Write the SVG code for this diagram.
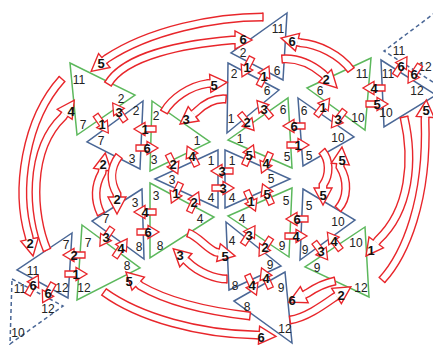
<svg xmlns="http://www.w3.org/2000/svg" xmlns:xlink="http://www.w3.org/1999/xlink" width="433" height="345" viewBox="0 0 433 345">
<style>
.tb{fill:none;stroke:#4a6796;stroke-width:1.5}
.tg{fill:none;stroke:#5cb85c;stroke-width:1.5}
.td{fill:none;stroke:#4a6796;stroke-width:1.5;stroke-dasharray:4 3}
.lb{font-family:"Liberation Sans",Arial,sans-serif;font-size:12px;fill:#222;text-anchor:middle}
.an{font-family:"Liberation Sans",Arial,sans-serif;font-size:13px;font-weight:bold;fill:#111;text-anchor:middle}
.sa{fill:#fff;stroke:#e8262b;stroke-width:1.3;stroke-linejoin:miter}
.bs{fill:none;stroke:#e8262b;stroke-width:9}
.bw{fill:none;stroke:#fff;stroke-width:6.2;marker-start:url(#tl);marker-end:url(#hd)}
</style>
<defs>
<marker id="hd" markerUnits="userSpaceOnUse" orient="auto" viewBox="-20 -20 40 40" markerWidth="40" markerHeight="40" refX="0" refY="0" overflow="visible">
<polyline points="0,-3.1 0,-9 17,0 0,9 0,3.1" fill="#fff" stroke="#e8262b" stroke-width="1.4"/>
</marker>
<marker id="tl" markerUnits="userSpaceOnUse" orient="auto" viewBox="-20 -20 40 40" markerWidth="40" markerHeight="40" refX="0" refY="0" overflow="visible">
<line x1="0" y1="-4.5" x2="0" y2="4.5" stroke="#e8262b" stroke-width="1.4"/>
</marker>
<path id="sa" d="M-11,-3 H0 V-6.5 L11,0 L0,6.5 V3 H-11 Z"/>
<path id="c1" d="M263,17 C215,17 150,30 106.6,58.6 L104.3,60.5"/>
<path id="c2" d="M108,84 C125,55 185,44 232,40 L235,40"/>
<path id="c3" d="M351,70 C340,55 318,44 300.4,42.8 L297.5,42.1"/>
<path id="c4" d="M282,59 C295,58 310,63 323,73.8 L325.1,75.9"/>
<path id="c5" d="M164,112 C172,98 190,86 207.2,83.6 L210.2,83.4"/>
<path id="c6" d="M226,99 C215,98 204,104 196,112 L193.6,113.8"/>
<path id="c7" d="M62,79 C25,120 15,190 29,236.4 L29.6,239.3"/>
<path id="c8" d="M47,250 C32,215 28,150 63,116.8 L64.7,114.3"/>
<path id="c9" d="M250,316 C215,312 170,303 140.4,285.8 L138.2,283.7"/>
<path id="c10" d="M104,292 C140,318 200,334 256,335 L259,335.2"/>
<path id="c11" d="M188,233 C198,236 206,248 215.6,252 L218.5,252.6"/>
<path id="c12" d="M227,279 C215,279 198,272 188,262.2 L185.8,260.2"/>
<path id="c13" d="M382,280 C405,255 428,200 425,120 L425.2,117"/>
<path id="c14" d="M404,117 C414,160 410,210 378,240 L376.2,242.4"/>
<path id="c15" d="M101,214 C94,200 95,185 102,172.8 L102.5,169.8"/>
<path id="c16" d="M119,156 C110,168 110,182 117,194 L117,197"/>
<path id="c17" d="M322,151 C330,160 330,175 323,185 L323,188"/>
<path id="c18" d="M338,209 C348,198 348,180 340,167 L340.3,164"/>
<path id="c19" d="M335,281 C325,283 315,288 307,293.4 L304.3,294.7"/>
<path id="c20" d="M290,320 C305,318 322,306 334,297.6 L336.5,296"/>
</defs>
<rect width="433" height="345" fill="#fff"/>

<g id="n-ga"><polygon class="tg" points="70,63 135,95 77,135"/><text class="lb" x="79" y="84">11</text><text class="lb" x="121" y="103">2</text><text class="lb" x="83" y="129">7</text></g>
<g id="n-ba"><polygon class="tb" points="143,101 87,142 140,169"/><text class="lb" x="136" y="115">2</text><text class="lb" x="101" y="145">7</text><text class="lb" x="132" y="163">3</text></g>
<g id="n-btop"><polygon class="tb" points="287,13 231,53 283,80"/><text class="lb" x="278" y="33">11</text><text class="lb" x="243" y="57">2</text><text class="lb" x="277" y="75">6</text></g>
<g id="n-t2"><polygon class="tb" points="228,63 279,90 227,133"/><text class="lb" x="234" y="78">2</text><text class="lb" x="267" y="95">6</text><text class="lb" x="231" y="123">1</text></g>
<g id="n-g2"><polygon class="tg" points="152,101 210,142 150,171"/><text class="lb" x="156" y="120">2</text><text class="lb" x="197" y="145">1</text><text class="lb" x="154" y="164">3</text></g>
<g id="n-cl"><polygon class="tb" points="218,150 155,179 218,208"/><text class="lb" x="211" y="165">1</text><text class="lb" x="172" y="184">3</text><text class="lb" x="211" y="202">4</text></g>
<g id="n-cr"><polygon class="tb" points="225,150 290,179 225,208"/><text class="lb" x="232" y="165">1</text><text class="lb" x="271" y="183">5</text><text class="lb" x="232" y="202">4</text></g>
<g id="n-g3"><polygon class="tg" points="228,140 288,98 292,168"/><text class="lb" x="240" y="143">1</text><text class="lb" x="283" y="114">6</text><text class="lb" x="287" y="161">5</text></g>
<g id="n-gb"><polygon class="tg" points="371,58 307,88 365,130"/><text class="lb" x="362" y="78">11</text><text class="lb" x="320" y="95">6</text><text class="lb" x="358" y="122">10</text></g>
<g id="n-be"><polygon class="tb" points="298,98 354,137 303,166"/><text class="lb" x="304" y="115">6</text><text class="lb" x="338" y="142">10</text><text class="lb" x="309" y="160">5</text></g>
<g id="n-bc"><polygon class="tb" points="381,60 436,95 384,127"/><text class="lb" x="388" y="78">11</text><text class="lb" x="417" y="95">12</text><text class="lb" x="386" y="117">10</text></g>
<g id="n-tr"><polyline class="td" points="436,12 384,51 436,84"/><text class="lb" x="399" y="55">11</text><text class="lb" x="425" y="71">12</text></g>
<g id="n-gd"><polygon class="tg" points="150,183 214,217 150,258"/><text class="lb" x="156" y="200">3</text><text class="lb" x="200" y="223">4</text><text class="lb" x="160" y="250">8</text></g>
<g id="n-ge"><polygon class="tg" points="228,216 292,188 289,257"/><text class="lb" x="242" y="223">4</text><text class="lb" x="286" y="205">5</text><text class="lb" x="282" y="250">9</text></g>
<g id="n-bf"><polygon class="tb" points="303,189 355,220 300,260"/><text class="lb" x="309" y="210">5</text><text class="lb" x="338" y="226">10</text><text class="lb" x="305" y="254">9</text></g>
<g id="n-gc"><polygon class="tg" points="365,227 305,267 369,297"/><text class="lb" x="356" y="247">10</text><text class="lb" x="317" y="272">9</text><text class="lb" x="361" y="292">12</text></g>
<g id="n-bg"><polygon class="tb" points="226,222 281,266 229,290"/><text class="lb" x="232" y="245">4</text><text class="lb" x="270" y="269">9</text><text class="lb" x="235" y="290">8</text></g>
<g id="n-bh"><polygon class="tb" points="234,301 285,272 292,343"/><text class="lb" x="247" y="311">8</text><text class="lb" x="281" y="292">9</text><text class="lb" x="285" y="333">12</text></g>
<g id="n-b37"><polygon class="tb" points="142,189 92,221 144,259"/><text class="lb" x="135" y="207">3</text><text class="lb" x="106" y="223">7</text><text class="lb" x="139" y="251">8</text></g>
<g id="n-g78"><polygon class="tg" points="82,225 140,268 77,300"/><text class="lb" x="88" y="247">7</text><text class="lb" x="127" y="270">8</text><text class="lb" x="84" y="292">12</text></g>
<g id="n-bbl"><polygon class="tb" points="72,233 17,270 68,298"/><text class="lb" x="66" y="249">7</text><text class="lb" x="33" y="275">11</text><text class="lb" x="62" y="292">12</text></g>
<g id="n-bld"><polygon class="td" points="12,279 63,306 10,344"/><text class="lb" x="20" y="293">11</text><text class="lb" x="48" y="313">12</text><text class="lb" x="18" y="337">10</text></g>

<g id="connectors">
<use href="#c1" class="bs"/><use href="#c1" class="bw"/>
<use href="#c2" class="bs"/><use href="#c2" class="bw"/>
<use href="#c3" class="bs"/><use href="#c3" class="bw"/>
<use href="#c4" class="bs"/><use href="#c4" class="bw"/>
<use href="#c5" class="bs"/><use href="#c5" class="bw"/>
<use href="#c6" class="bs"/><use href="#c6" class="bw"/>
<use href="#c7" class="bs"/><use href="#c7" class="bw"/>
<use href="#c8" class="bs"/><use href="#c8" class="bw"/>
<use href="#c9" class="bs"/><use href="#c9" class="bw"/>
<use href="#c10" class="bs"/><use href="#c10" class="bw"/>
<use href="#c11" class="bs"/><use href="#c11" class="bw"/>
<use href="#c12" class="bs"/><use href="#c12" class="bw"/>
<use href="#c13" class="bs"/><use href="#c13" class="bw"/>
<use href="#c14" class="bs"/><use href="#c14" class="bw"/>
<use href="#c15" class="bs"/><use href="#c15" class="bw"/>
<use href="#c16" class="bs"/><use href="#c16" class="bw"/>
<use href="#c17" class="bs"/><use href="#c17" class="bw"/>
<use href="#c18" class="bs"/><use href="#c18" class="bw"/>
<use href="#c19" class="bs"/><use href="#c19" class="bw"/>
<use href="#c20" class="bs"/><use href="#c20" class="bw"/>
<text class="an" x="101" y="68">5</text>
<text class="an" x="243" y="44">6</text>
<text class="an" x="292" y="46">6</text>
<text class="an" x="326" y="84">2</text>
<text class="an" x="214" y="90">5</text>
<text class="an" x="186" y="124">3</text>
<text class="an" x="30" y="248">2</text>
<text class="an" x="71" y="116">4</text>
<text class="an" x="129" y="286">5</text>
<text class="an" x="261" y="342">6</text>
<text class="an" x="225" y="261">5</text>
<text class="an" x="180" y="260">3</text>
<text class="an" x="426" y="115">5</text>
<text class="an" x="371" y="255">1</text>
<text class="an" x="103" y="169">2</text>
<text class="an" x="117" y="204">2</text>
<text class="an" x="323" y="200">5</text>
<text class="an" x="342" y="165">5</text>
<text class="an" x="292" y="305">6</text>
<text class="an" x="341" y="300">2</text>
</g>

<g id="edge-arrows">
<use href="#sa" class="sa" transform="translate(119,112) rotate(235)"/><text class="an" x="119" y="117">3</text>
<use href="#sa" class="sa" transform="translate(102,124) rotate(55)"/><text class="an" x="102" y="129">1</text>
<use href="#sa" class="sa" transform="translate(145,129) rotate(180)"/><text class="an" x="145" y="134">1</text>
<use href="#sa" class="sa" transform="translate(147,148) rotate(0)"/><text class="an" x="147" y="153">6</text>
<use href="#sa" class="sa" transform="translate(247,67) rotate(117)"/><text class="an" x="247" y="72">1</text>
<use href="#sa" class="sa" transform="translate(264,76) rotate(-63)"/><text class="an" x="264" y="81">1</text>
<use href="#sa" class="sa" transform="translate(247,122) rotate(50)"/><text class="an" x="247" y="127">2</text>
<use href="#sa" class="sa" transform="translate(264,109) rotate(230)"/><text class="an" x="264" y="114">3</text>
<use href="#sa" class="sa" transform="translate(173,164) rotate(64)"/><text class="an" x="173" y="169">2</text>
<use href="#sa" class="sa" transform="translate(192,156) rotate(244)"/><text class="an" x="192" y="161">4</text>
<use href="#sa" class="sa" transform="translate(222,171) rotate(180)"/><text class="an" x="222" y="176">3</text>
<use href="#sa" class="sa" transform="translate(223,188) rotate(0)"/><text class="an" x="223" y="193">3</text>
<use href="#sa" class="sa" transform="translate(176,193) rotate(115)"/><text class="an" x="176" y="198">1</text>
<use href="#sa" class="sa" transform="translate(194,202) rotate(-65)"/><text class="an" x="194" y="207">2</text>
<use href="#sa" class="sa" transform="translate(249,155) rotate(-66)"/><text class="an" x="249" y="160">5</text>
<use href="#sa" class="sa" transform="translate(266,163) rotate(114)"/><text class="an" x="266" y="168">4</text>
<use href="#sa" class="sa" transform="translate(251,201) rotate(66)"/><text class="an" x="251" y="206">1</text>
<use href="#sa" class="sa" transform="translate(267,194) rotate(246)"/><text class="an" x="267" y="199">5</text>
<use href="#sa" class="sa" transform="translate(294,126) rotate(180)"/><text class="an" x="294" y="131">6</text>
<use href="#sa" class="sa" transform="translate(298,145) rotate(0)"/><text class="an" x="298" y="150">1</text>
<use href="#sa" class="sa" transform="translate(323,107) rotate(-53)"/><text class="an" x="323" y="112">1</text>
<use href="#sa" class="sa" transform="translate(338,119) rotate(127)"/><text class="an" x="338" y="124">3</text>
<use href="#sa" class="sa" transform="translate(374,88) rotate(180)"/><text class="an" x="374" y="93">4</text>
<use href="#sa" class="sa" transform="translate(377,104) rotate(0)"/><text class="an" x="377" y="109">5</text>
<use href="#sa" class="sa" transform="translate(401,66) rotate(-57)"/><text class="an" x="401" y="71">6</text>
<use href="#sa" class="sa" transform="translate(414,74) rotate(123)"/><text class="an" x="414" y="79">6</text>
<use href="#sa" class="sa" transform="translate(145,212) rotate(180)"/><text class="an" x="145" y="217">4</text>
<use href="#sa" class="sa" transform="translate(148,232) rotate(0)"/><text class="an" x="148" y="237">6</text>
<use href="#sa" class="sa" transform="translate(106,237) rotate(124)"/><text class="an" x="106" y="242">3</text>
<use href="#sa" class="sa" transform="translate(121,248) rotate(-56)"/><text class="an" x="121" y="253">4</text>
<use href="#sa" class="sa" transform="translate(74,255) rotate(180)"/><text class="an" x="74" y="260">2</text>
<use href="#sa" class="sa" transform="translate(76,274) rotate(0)"/><text class="an" x="76" y="279">1</text>
<use href="#sa" class="sa" transform="translate(33,285) rotate(-61)"/><text class="an" x="33" y="290">6</text>
<use href="#sa" class="sa" transform="translate(48,293) rotate(119)"/><text class="an" x="48" y="298">6</text>
<use href="#sa" class="sa" transform="translate(297,219) rotate(180)"/><text class="an" x="297" y="224">6</text>
<use href="#sa" class="sa" transform="translate(296,236) rotate(0)"/><text class="an" x="296" y="241">4</text>
<use href="#sa" class="sa" transform="translate(249,235) rotate(-57)"/><text class="an" x="249" y="240">3</text>
<use href="#sa" class="sa" transform="translate(265,247) rotate(123)"/><text class="an" x="265" y="252">2</text>
<use href="#sa" class="sa" transform="translate(252,285) rotate(66)"/><text class="an" x="252" y="290">4</text>
<use href="#sa" class="sa" transform="translate(266,278) rotate(246)"/><text class="an" x="266" y="283">4</text>
<use href="#sa" class="sa" transform="translate(334,241) rotate(233)"/><text class="an" x="334" y="246">4</text>
<use href="#sa" class="sa" transform="translate(321,251) rotate(53)"/><text class="an" x="321" y="256">3</text>
</g>
</svg>
